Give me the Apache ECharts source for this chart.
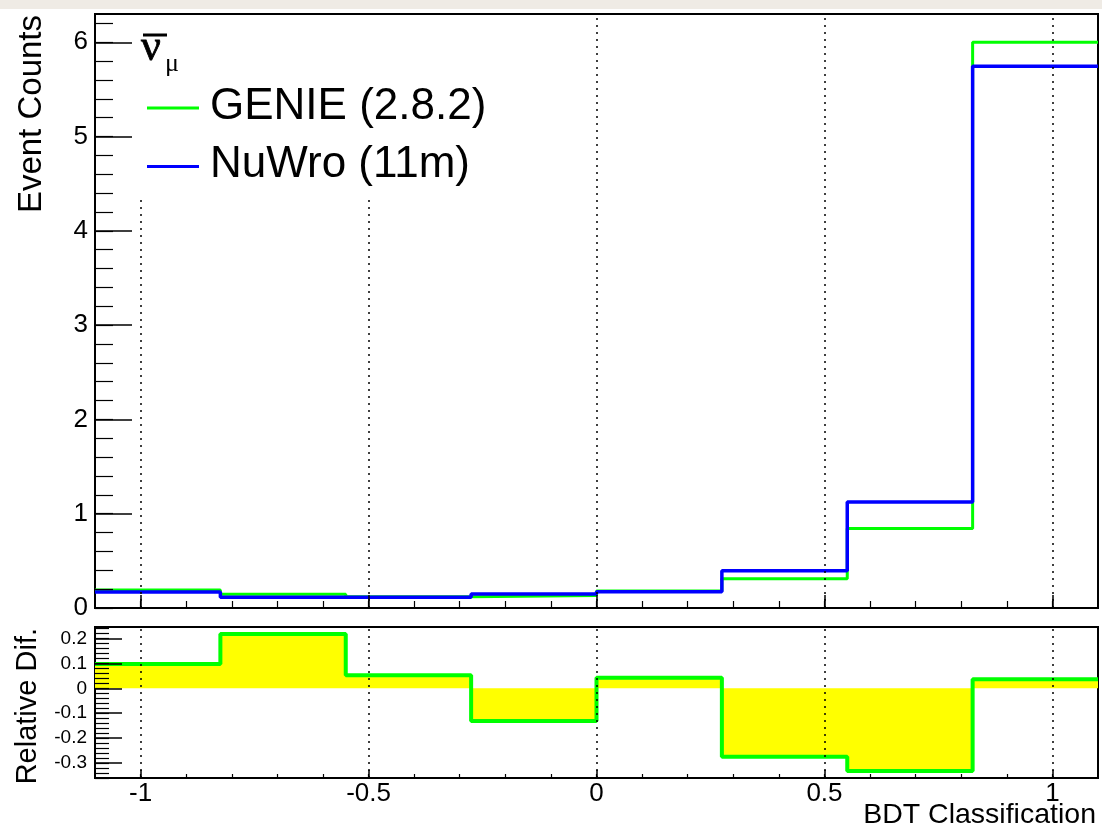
<!DOCTYPE html>
<html>
<head>
<meta charset="utf-8">
<script src="https://cdn.jsdelivr.net/npm/echarts@6/dist/echarts.min.js"></script>
<style>
  html, body { margin: 0; padding: 0; background: #fff; }
  #chart { width: 1102px; height: 832px; }
</style>
</head>
<body>
<div id="chart"></div>
<script>
// Histogram binning (BDT classifier output)
const binEdges = [-1.1, -0.825, -0.55, -0.275, 0, 0.275, 0.55, 0.825, 1.1];

// Event counts per bin
const genieCounts = [0.19, 0.146, 0.12, 0.132, 0.18, 0.311, 0.842, 6.0];
const nuwroCounts = [0.171, 0.114, 0.114, 0.149, 0.173, 0.396, 1.125, 5.746];

// Relative difference per bin
const relativeDiff = [0.098, 0.218, 0.052, -0.131, 0.042, -0.275, -0.332, 0.036];

// Tick labels
const xTickLabels = [-1, -0.5, 0, 0.5, 1];
const countTickLabels = [0, 1, 2, 3, 4, 5, 6];
const diffTickLabels = [-0.3, -0.2, -0.1, 0, 0.1, 0.2];

const seriesNames = ['GENIE (2.8.2)', 'NuWro (11m)'];

// evenly spaced minor tick positions
function steps(from, to, step) {
  const out = [];
  const n = Math.round((to - from) / step);
  for (let i = 0; i <= n; i++) out.push(+(from + i * step).toFixed(6));
  return out;
}

// step-histogram points: one point per bin start plus the last edge
function histPoints(values) {
  const pts = values.map((v, i) => [binEdges[i], v]);
  pts.push([binEdges[binEdges.length - 1], values[values.length - 1]]);
  return pts;
}

const FONT = '"Liberation Sans", Arial, Helvetica, sans-serif';
const SERIF = '"Liberation Serif", "DejaVu Serif", serif';
const X_MIN = -1.1, X_MAX = 1.1;

function xAxisPair(grid, majorLen, minorLen, showLabels) {
  const base = {
    type: 'value', gridIndex: grid, min: X_MIN, max: X_MAX, position: 'bottom', offset: 0,
    axisLine: { show: false, onZero: false }, splitLine: { show: false }, z: 10
  };
  return [
    Object.assign({}, base, {
      axisTick: { show: true, inside: true, length: majorLen, customValues: xTickLabels,
                  lineStyle: { color: '#000', width: 1.5 } },
      axisLabel: { show: showLabels, customValues: xTickLabels, margin: 3,
                   color: '#000', fontSize: 26, fontFamily: FONT }
    }),
    Object.assign({}, base, {
      axisTick: { show: true, inside: true, length: minorLen, customValues: steps(-1.0, 1.0, 0.1),
                  lineStyle: { color: '#000', width: 1.2 } },
      axisLabel: { show: false }
    })
  ];
}

function yAxisPair(grid, min, max, labels, minor, majorLen, minorLen, fontSize, margin) {
  const base = {
    type: 'value', gridIndex: grid, min: min, max: max, position: 'left', offset: 0,
    axisLine: { show: false, onZero: false }, splitLine: { show: false }, z: 10
  };
  return [
    Object.assign({}, base, {
      axisTick: { show: true, inside: true, length: majorLen, customValues: labels,
                  lineStyle: { color: '#000', width: 1.5 } },
      axisLabel: { show: true, customValues: labels, margin: margin,
                   color: '#000', fontSize: fontSize, fontFamily: FONT }
    }),
    Object.assign({}, base, {
      axisTick: { show: true, inside: true, length: minorLen, customValues: minor,
                  lineStyle: { color: '#000', width: 1.2 } },
      axisLabel: { show: false }
    })
  ];
}

const dotted = { color: '#000', width: 1.5, type: [2, 5] };
function gridLineSeries(xIdx, yIdx) {
  return {
    type: 'line', xAxisIndex: xIdx, yAxisIndex: yIdx, data: [], z: 1, silent: true,
    markLine: {
      silent: true, symbol: 'none', label: { show: false },
      lineStyle: dotted, animation: false,
      data: xTickLabels.map(v => ({ xAxis: v }))
    }
  };
}

const chart = echarts.init(document.getElementById('chart'), null, { renderer: 'canvas' });

chart.setOption({
  animation: false,
  backgroundColor: '#fff',
  grid: [
    { left: 95, top: 14, width: 1003, height: 594, show: true, borderColor: '#000', borderWidth: 2, backgroundColor: '#fff' },
    { left: 95, top: 627, width: 1003, height: 151, show: true, borderColor: '#000', borderWidth: 2, backgroundColor: '#fff' }
  ],
  xAxis: [].concat(xAxisPair(0, 13, 7, false), xAxisPair(1, 8, 4, true)),
  yAxis: [].concat(
    yAxisPair(0, 0, 6.3, countTickLabels, steps(0, 6.2, 0.2), 37, 18, 26, 7),
    yAxisPair(1, -0.36, 0.246, diffTickLabels, steps(-0.36, 0.24, 0.02), 27, 14, 19, 8)
  ),
  series: [
    gridLineSeries(0, 0),
    {
      name: seriesNames[0], type: 'line', xAxisIndex: 0, yAxisIndex: 0,
      step: 'end', showSymbol: false, z: 3,
      lineStyle: { color: '#00ff00', width: 3 },
      data: histPoints(genieCounts)
    },
    {
      name: seriesNames[1], type: 'line', xAxisIndex: 0, yAxisIndex: 0,
      step: 'end', showSymbol: false, z: 4,
      lineStyle: { color: '#0000ff', width: 3.5 },
      data: histPoints(nuwroCounts)
    },
    gridLineSeries(2, 2),
    {
      name: 'Relative Dif.', type: 'line', xAxisIndex: 2, yAxisIndex: 2,
      step: 'end', showSymbol: false, z: 3,
      lineStyle: { color: '#00ff00', width: 4 },
      areaStyle: { color: '#ffff00', opacity: 1 },
      data: histPoints(relativeDiff)
    }
  ],
  graphic: [
    // paper strip along the top edge
    { type: 'rect', shape: { x: 0, y: 0, width: 1102, height: 9 }, style: { fill: '#efebe5' }, z: 0 },
    // legend box
    { type: 'rect', shape: { x: 135, y: 16, width: 370, height: 182 }, style: { fill: '#fff' }, z: 50 },
    { type: 'text', x: 141, y: 48, z: 51,
      style: { text: 'ν', font: '44px ' + SERIF, fill: '#000', verticalAlign: 'middle',
               stroke: '#000', lineWidth: 0.8 } },
    { type: 'line', shape: { x1: 143, y1: 35, x2: 167, y2: 35 }, style: { stroke: '#000', lineWidth: 3 }, z: 51 },
    { type: 'text', x: 165, y: 64, z: 51,
      style: { text: 'μ', font: '26px ' + SERIF, fill: '#000', verticalAlign: 'middle' } },
    { type: 'line', shape: { x1: 147, y1: 108, x2: 199, y2: 108 }, style: { stroke: '#00ff00', lineWidth: 3 }, z: 51 },
    { type: 'text', x: 210, y: 107, z: 51,
      style: { text: seriesNames[0], font: '44px ' + FONT, fill: '#000', verticalAlign: 'middle' } },
    { type: 'line', shape: { x1: 147, y1: 166.5, x2: 199, y2: 166.5 }, style: { stroke: '#0000ff', lineWidth: 3 }, z: 51 },
    { type: 'text', x: 210, y: 165, z: 51,
      style: { text: seriesNames[1], font: '44px ' + FONT, fill: '#000', verticalAlign: 'middle' } },
    // axis titles
    { type: 'text', x: 32, y: 15, rotation: Math.PI / 2, z: 51,
      style: { text: 'Event Counts', font: '33px ' + FONT, fill: '#000', align: 'right', verticalAlign: 'middle' } },
    { type: 'text', x: 28, y: 628, rotation: Math.PI / 2, z: 51,
      style: { text: 'Relative Dif.', font: '29px ' + FONT, fill: '#000', align: 'right', verticalAlign: 'middle' } },
    { type: 'text', x: 1096, y: 815, z: 51,
      style: { text: 'BDT Classification', font: '28.5px ' + FONT, fill: '#000', align: 'right', verticalAlign: 'middle' } }
  ]
});
</script>
</body>
</html>
